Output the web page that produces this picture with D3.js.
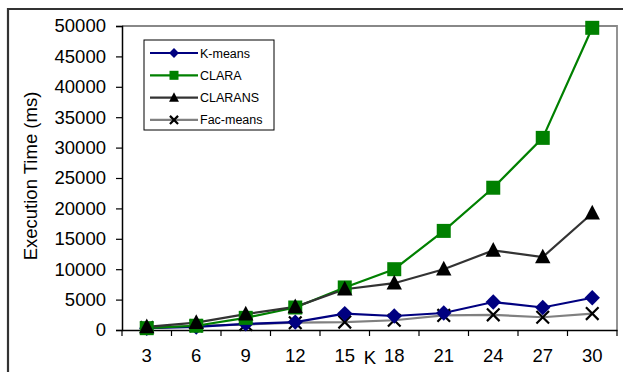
<!DOCTYPE html>
<html><head><meta charset="utf-8">
<script src="https://cdn.jsdelivr.net/npm/d3@7"></script>
<style>body{margin:0;background:#fff}svg{display:block;font-family:"Liberation Sans",Arial,sans-serif}</style>
</head><body><svg id="c" width="623" height="372"></svg>
<script>
const categories = ["3","6","9","12","15","18","21","24","27","30"];
const kmeans   = [300, 500, 1000, 1300, 2700, 2300, 2800, 4600, 3700, 5300];
const clara    = [300, 700, 2000, 3700, 7000, 10000, 16300, 23400, 31600, 49700];
const clarans  = [500, 1200, 2600, 3800, 6700, 7700, 10000, 13100, 12000, 19200];
const facmeans = [400, 700, 900, 1200, 1300, 1600, 2400, 2500, 2100, 2700];
const yTicks   = [0,5000,10000,15000,20000,25000,30000,35000,40000,45000,50000];
const seriesNames = ["K-means","CLARA","CLARANS","Fac-means"];

const series = [
  {name: seriesNames[0], values: kmeans,   line: "#000080", mark: "diamond", fill: "#000080"},
  {name: seriesNames[1], values: clara,    line: "#008000", mark: "square",  fill: "#008000"},
  {name: seriesNames[2], values: clarans,  line: "#333333", mark: "triangle",fill: "#000000"},
  {name: seriesNames[3], values: facmeans, line: "#808080", mark: "x",       fill: "#000000"}
];

const svg = d3.select("#c");
const L = 122, R = 617, T = 26, B = 330;

// outer frame
svg.append("path").attr("d", `M8,380 L8,9 L630,9`).attr("fill","none").attr("stroke","#333").attr("stroke-width",2.2);

const x = d3.scaleBand().domain(categories).range([L, R]);
const y = d3.scaleLinear().domain([0, 50000]).range([B, T]);

// plot area border (gray top/right)
svg.append("path").attr("d", `M${L},${T} L${R},${T} L${R},${B}`).attr("fill","none").attr("stroke","#888").attr("stroke-width",1.8);

// y axis
const ya = svg.append("g").attr("transform", `translate(${L},0)`)
  .call(d3.axisLeft(y).tickValues(yTicks).tickFormat(d3.format("d")).tickSizeOuter(0).tickSize(6).tickPadding(10));
ya.select(".domain").attr("stroke","#000").attr("stroke-width",1.5);
ya.selectAll(".tick line").attr("stroke","#000").attr("stroke-width",1.2);
ya.selectAll("text").attr("font-size",18.5).attr("fill","#000").attr("font-family","Liberation Sans, Arial, sans-serif");

// x axis
const xa = svg.append("g").attr("transform", `translate(0,${B})`)
  .call(d3.axisBottom(x).tickSize(0).tickPadding(19));
xa.select(".domain").attr("stroke","#000").attr("stroke-width",1.5);
xa.selectAll("text").attr("font-size",18.5).attr("fill","#000").attr("font-family","Liberation Sans, Arial, sans-serif");
// boundary tick marks
const bounds = categories.map(c => x(c)).concat([R]);
svg.append("g").selectAll("line").data(bounds).join("line")
  .attr("x1", d => d).attr("x2", d => d).attr("y1", B).attr("y2", B + 6)
  .attr("stroke","#000").attr("stroke-width",1.2);

// axis titles
svg.append("text").attr("x", 370).attr("y", 364).attr("text-anchor","middle")
  .attr("font-size",18.5).text("K");
svg.append("text").attr("transform", `translate(37,176) rotate(-90)`).attr("text-anchor","middle")
  .attr("font-size",18.5).text("Execution Time (ms)");

function marker(g, type, fill, s) {
  if (type === "diamond") {
    g.append("path").attr("d", `M0,${-s*0.55} L${s*0.55},0 L0,${s*0.55} L${-s*0.55},0Z`).attr("fill", fill);
  } else if (type === "square") {
    g.append("rect").attr("x", -s/2).attr("y", -s/2).attr("width", s).attr("height", s).attr("fill", fill);
  } else if (type === "triangle") {
    g.append("path").attr("d", `M0,${-s*0.6} L${s*0.55},${s*0.45} L${-s*0.55},${s*0.45}Z`).attr("fill", fill);
  } else {
    const h = s*0.45;
    g.append("path").attr("d", `M${-h},${-h} L${h},${h} M${-h},${h} L${h},${-h}`).attr("stroke", fill).attr("stroke-width", 2.2).attr("fill","none");
  }
}

const cx = d => x(d) + x.bandwidth()/2;
const order = [3, 0, 1, 2];
const lineGen = d3.line().x((v,i) => cx(categories[i])).y(v => y(v));
order.forEach(k => {
  const s = series[k];
  svg.append("path").attr("d", lineGen(s.values)).attr("fill","none").attr("stroke", s.line).attr("stroke-width",2.2);
});
order.forEach(k => {
  const s = series[k];
  s.values.forEach((v,i) => {
    const g = svg.append("g").attr("transform", `translate(${cx(categories[i])},${y(v)})`);
    marker(g, s.mark, s.fill, 14);
  });
});

// legend
const lg = svg.append("g").attr("transform","translate(144,40)");
lg.append("rect").attr("x",0).attr("y",0).attr("width",130).attr("height",90).attr("fill","#fff").attr("stroke","#000").attr("stroke-width",1);
series.forEach((s,i) => {
  const yy = 13 + i*22.3;
  lg.append("line").attr("x1",6).attr("x2",54).attr("y1",yy).attr("y2",yy).attr("stroke",s.line).attr("stroke-width",2.2);
  const g = lg.append("g").attr("transform",`translate(30,${yy})`);
  marker(g, s.mark, s.fill, 9);
  lg.append("text").attr("x",56).attr("y",yy+4.5).attr("font-size",12.5).text(s.name);
});
</script></body></html>
